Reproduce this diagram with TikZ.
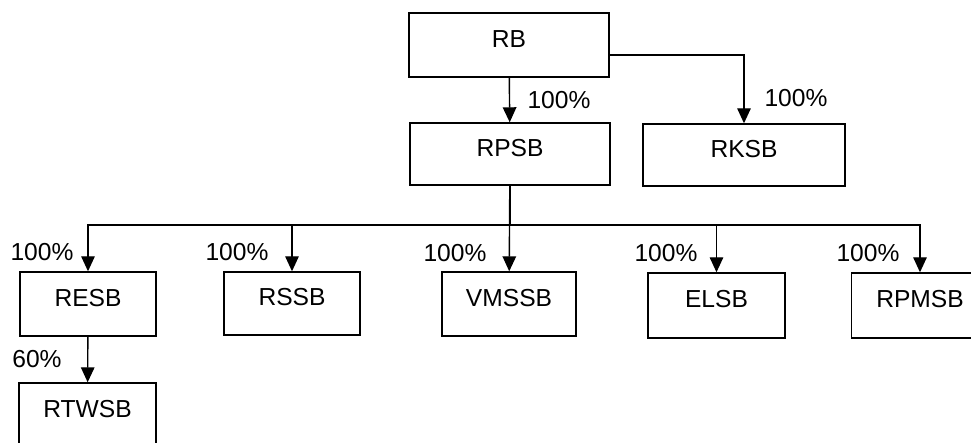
\documentclass[tikz,border=0pt]{standalone}
\usepackage{fontspec}
\setmainfont{Liberation Sans}
\usetikzlibrary{arrows.meta, calc}

\begin{document}
\begin{tikzpicture}[>={Triangle[length=0.3cm, width=0.27cm]},
    co/.style={draw, line width=0.8pt, inner sep=0pt, font=\fontsize{14}{16}\selectfont,
        text height=0.35cm, text depth=0.26cm},
    pct/.style={font=\fontsize{14}{16}\selectfont, inner sep=0pt}]
    \useasboundingbox (0,0) rectangle (19.42,8.86);

    % Parent companies
    \node[co, minimum width=4cm, minimum height=1.28cm] (RB) at (10.18,7.96) {RB};
    \node[co, minimum width=4cm, minimum height=1.24cm] (RPSB) at (10.20,5.78) {RPSB};
    \node[co, minimum width=4.04cm, minimum height=1.24cm] (RKSB) at (14.88,5.76) {RKSB};

    % Subsidiaries
    \node[co, minimum width=2.72cm, minimum height=1.28cm] (RESB) at (1.76,2.78) {RESB};
    \node[co, minimum width=2.72cm, minimum height=1.26cm] (RSSB) at (5.84,2.79) {RSSB};
    \node[co, minimum width=2.68cm, minimum height=1.28cm] (VMSSB) at (10.18,2.78) {VMSSB};
    \node[co, minimum width=2.74cm, minimum height=1.30cm] (ELSB) at (14.33,2.75) {ELSB};
    \node[co, minimum width=2.74cm, minimum height=1.30cm] (RPMSB) at (18.40,2.75) {RPMSB};
    \node[co, minimum width=2.74cm, minimum height=1.28cm] (RTWSB) at (1.75,0.56) {RTWSB};

    % Links
    \draw[line width=0.8pt, ->] (RB) -- (RPSB);
    \draw[line width=0.8pt, ->] ([yshift=-0.2cm]RB.east) -| (RKSB);

    \coordinate (bus) at (RPSB.south |- 0,4.36);
    \draw[line width=0.8pt] (RPSB) -- (bus);
    \draw[line width=0.8pt, ->] (bus) -| (RESB);
    \draw[line width=0.8pt, ->] (bus) -| (RSSB);
    \draw[line width=0.8pt, ->] (RPSB) -- (VMSSB);
    \draw[line width=0.8pt, ->] (bus) -| (ELSB);
    \draw[line width=0.8pt, ->] (bus) -| (RPMSB);
    \draw[line width=0.8pt, ->] (RESB) -- (RTWSB);

    % Shares
    \node[pct] (pRPSB) at (11.18,6.86) {100\%};
    \node[pct] (pRKSB) at (15.92,6.90) {100\%};
    \node[pct] (pRESB) at (0.84,3.82) {100\%};
    \node[pct] (pRSSB) at (4.74,3.82) {100\%};
    \node[pct] (pVMSSB) at (9.10,3.80) {100\%};
    \node[pct] (pELSB) at (13.32,3.80) {100\%};
    \node[pct] (pRPMSB) at (17.36,3.80) {100\%};
    \node[pct] (pRTWSB) at (0.74,1.68) {60\%};

\end{tikzpicture}
\end{document}
